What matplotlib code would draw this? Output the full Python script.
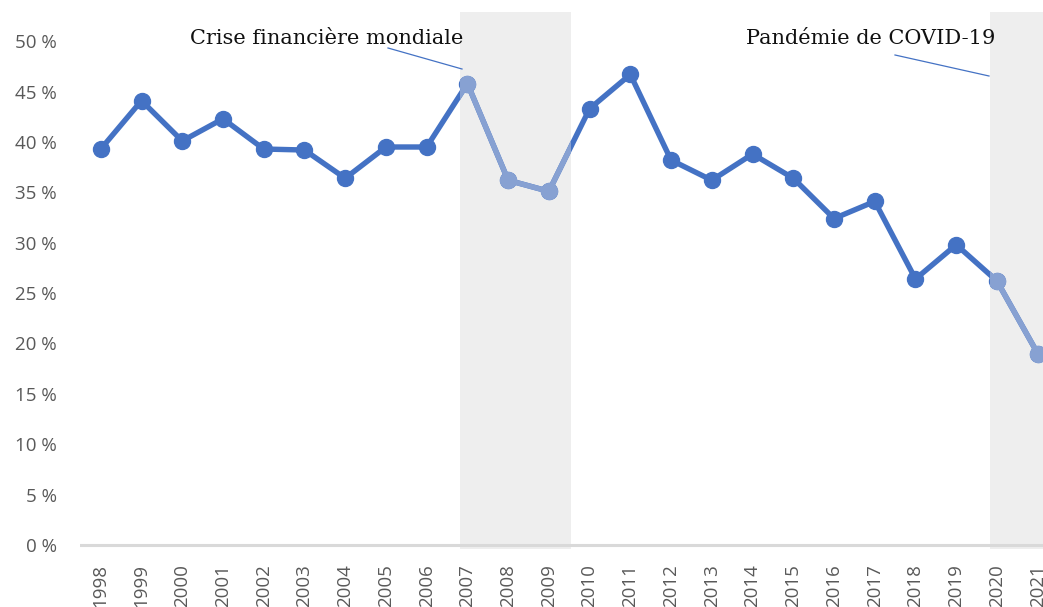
import matplotlib
matplotlib.use("Agg")
import matplotlib.pyplot as plt
from matplotlib.patches import Rectangle

years = list(range(1998, 2022))
values = [39.3, 44.1, 40.1, 42.3, 39.3, 39.2, 36.4, 39.5, 39.5, 45.8, 36.2, 35.1,
          43.3, 46.7, 38.2, 36.2, 38.8, 36.4, 32.4, 34.1, 26.4, 29.8, 26.2, 19.0]
crises = [(2006.82, 2009.54, "Crise financière mondiale"),
          (2019.82, 2022.0, "Pandémie de COVID-19")]
yticks = list(range(0, 51, 5))
ytick_labels = [f"{v} %" for v in yticks]

W, H = 1043, 607
fig = plt.figure(figsize=(W / 100, H / 100), dpi=100)
ax = fig.add_axes([80 / W, 1 - 549 / H, 1 - 80 / W, (549 - 12) / H])
ax.set_xlim(1997.49, 2021.13)
ax.set_ylim(-0.4, 52.9)

dark = "#4472C4"
light = "#87A1D2"
shade = "#EEEEEE"

for x0, x1, _ in crises:
    ax.axvspan(x0, x1, color=shade, zorder=0, lw=0)

ax.axhline(0, color="#D9D9D9", lw=2.2, zorder=1)

line_kw = dict(lw=3.9, marker="o", ms=11.5, solid_joinstyle="round",
               solid_capstyle="round")
ax.plot(years, values, color=dark, zorder=3, clip_on=False, **line_kw)
for x0, x1, _ in crises:
    ln, = ax.plot(years, values, color=light, zorder=4, clip_on=True, **line_kw)
    rect = Rectangle((x0, -1), x1 - x0, 60, transform=ax.transData)
    ln.set_clip_path(rect)

for s in ax.spines.values():
    s.set_visible(False)

ax.set_yticks(yticks)
ax.set_yticklabels(ytick_labels, fontfamily="Open Sans", fontsize=13.5, color="#595959")
ax.set_xticks(years)
ax.set_xticklabels([str(y) for y in years], rotation=90, fontfamily="Open Sans",
                   fontsize=13.5, color="#595959", va="top")
ax.tick_params(axis="both", length=0)
ax.tick_params(axis="y", pad=16.5)
ax.tick_params(axis="x", pad=11)

def px(x, y):
    return (x / W, 1 - y / H)

fig.text(*px(327, 38), crises[0][2], ha="center", va="center",
         fontfamily="DejaVu Serif", fontsize=15, color="#111111")
fig.text(*px(871, 38), crises[1][2], ha="center", va="center",
         fontfamily="DejaVu Serif", fontsize=15, color="#111111")
fig.add_artist(plt.Line2D([388 / W, 462 / W], [1 - 48 / H, 1 - 69 / H],
                          color=dark, lw=0.9, transform=fig.transFigure))
fig.add_artist(plt.Line2D([895 / W, 989 / W], [1 - 55 / H, 1 - 76 / H],
                          color=dark, lw=0.9, transform=fig.transFigure))

fig.savefig("out.png", dpi=100)
